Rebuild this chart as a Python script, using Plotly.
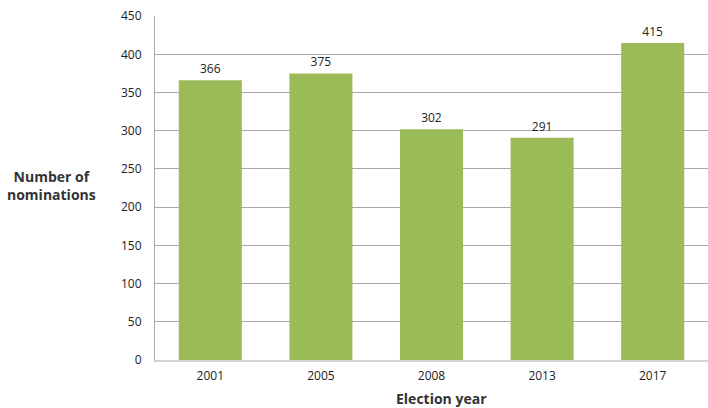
import plotly.graph_objects as go

years = ["2001", "2005", "2008", "2013", "2017"]
nominations = [366, 375, 302, 291, 415]
y_ticks = [0, 50, 100, 150, 200, 250, 300, 350, 400, 450]

FONT = "Open Sans, Lato, sans-serif"

W, H = 708, 408
L, R, T, B = 155, 0, 16, 48

fig = go.Figure(go.Bar(
    x=years, y=nominations,
    marker=dict(color="#9BBB59", line=dict(width=0)),
    width=0.57,
    text=[str(v) for v in nominations],
    textposition="outside",
    textfont=dict(family=FONT, size=12, color="#222222"),
    cliponaxis=False,
    hoverinfo="skip",
))

pw, ph = W - L - R, H - T - B

fig.update_layout(
    width=W, height=H, autosize=False,
    margin=dict(l=L, r=R, t=T, b=B, autoexpand=False),
    paper_bgcolor="white", plot_bgcolor="white",
    showlegend=False,
    font=dict(family=FONT, size=12, color="#222222"),
    xaxis=dict(
        showgrid=False, showline=True, linecolor="#d4d4d4", linewidth=2,
        ticks="", tickfont=dict(size=12, color="#222222"), automargin=False,
        ticklabelstandoff=4,
    ),
    yaxis=dict(
        range=[0, 450.2], tickvals=y_ticks, automargin=False,
        showgrid=True, gridcolor="#a8a8a8", gridwidth=1,
        showline=True, linecolor="#a8a8a8", linewidth=1,
        zeroline=False, ticks="", ticklabelstandoff=10,
        tickfont=dict(size=12, color="#222222"),
    ),
    annotations=[
        dict(
            text="<b>Number of<br>nominations</b>",
            xref="paper", yref="paper", xanchor="center", yanchor="middle",
            x=(51 - L) / pw, y=(H - B - 185) / ph,
            showarrow=False, font=dict(size=14, color="#333333"), align="center",
        ),
        dict(
            text="<b>Election year</b>",
            xref="paper", yref="paper", xanchor="center", yanchor="middle",
            x=(441 - L) / pw, y=(H - B - 398) / ph,
            showarrow=False, font=dict(size=14, color="#333333"),
        ),
    ],
)

fig.write_html(
    "out.html",
    config={"responsive": False, "displayModeBar": False},
    post_script=(
        "document.body.style.margin='0';"
        "document.body.style.overflow='hidden';"
        "document.documentElement.style.overflow='hidden';"
    ),
)
